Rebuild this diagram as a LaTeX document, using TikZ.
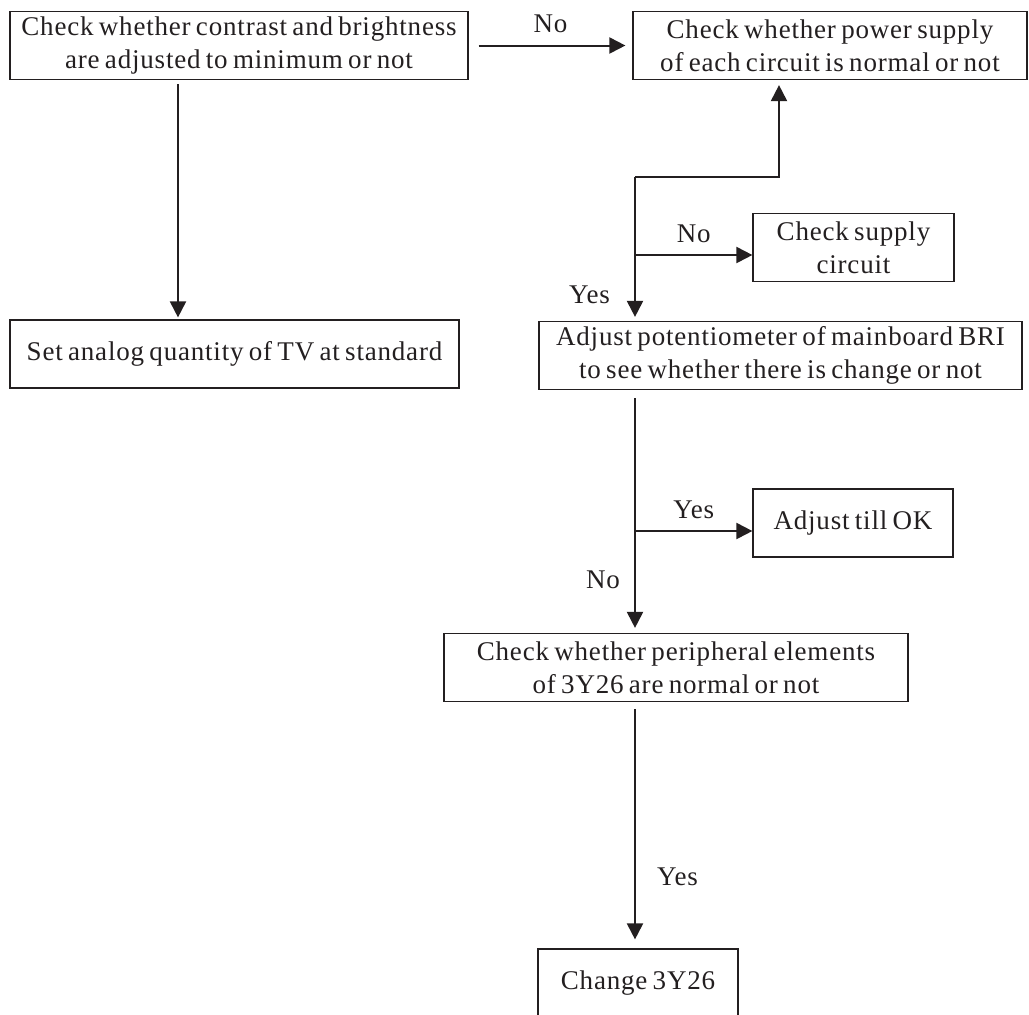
\documentclass[tikz,border=0pt]{standalone}
\usepackage{fontspec}
\setmainfont{Liberation Serif}[LetterSpace=3,WordSpace=0.7]
\usetikzlibrary{arrows.meta}
\definecolor{ink}{HTML}{231F20}

\begin{document}
\begin{tikzpicture}[x=0.5pt, y=-0.5pt, ink,
  box/.style={draw=ink, line width=0.6pt, align=center, inner sep=0pt, minimum height=34pt, font=\fontsize{13.5}{16.5}\selectfont},
  lab/.style={inner sep=0pt, font=\fontsize{13.5}{16.5}\selectfont},
  lbl/.style={lab, anchor=base, yshift=6.5pt},
  arr/.style={draw=ink, line width=1pt, -{Triangle[length=8pt, width=8pt]}}]
\useasboundingbox (0,0) rectangle (1029,1014);
\node[box, minimum width=229pt] (cb) at (239,45.5) {Check whether contrast and brightness\\are adjusted to minimum or not};
\node[box, minimum width=197pt] (ps) at (830,45.5) {Check whether power supply\\of each circuit is normal or not};
\node[box, minimum width=224.5pt] (tv) at (234.5,354) {Set analog quantity of TV at standard};
\node[box, minimum width=100.5pt] (sc) at (853.5,247.5) {Check supply\\circuit};
\node[box, minimum width=241.5pt] (bri) at (780.5,355.5) {Adjust potentiometer of mainboard BRI\\to see whether there is change or not};
\node[box, minimum width=100pt] (ok) at (853,523) {Adjust till OK};
\node[box, minimum width=232pt] (pe) at (676,667.5) {Check whether peripheral elements\\of 3Y26 are normal or not};
\node[box, minimum width=100pt] (ch) at (638,983) {Change 3Y26};
\coordinate (l) at (178,0);
\coordinate (m) at (635,0);
\coordinate (u) at (779,0);
\coordinate (f) at (635,177);
\coordinate (b1) at (635,255);
\coordinate (b2) at (635,531);
\path (cb) edge[arr, shorten <=5pt, shorten >=3.5pt] node[lbl] {No} (ps);
\draw[arr, shorten <=2pt, shorten >=1pt] (cb.south -| l) -- (tv.north -| l);
\draw[arr, shorten >=2.5pt] (f) -| (ps.south -| u);
\draw[arr, shorten >=2pt] (f) -- node[lab, left=12pt, pos=.82] {Yes} (bri.north -| m);
\draw[arr] (b1) -- node[lbl] {No} (b1 -| sc.west);
\draw[arr, shorten <=4pt, shorten >=2.5pt] (bri.south -| m) -- node[lab, left=7pt, pos=.78] {No} (pe.north -| m);
\draw[arr] (b2) -- node[lbl] {Yes} (b2 -| ok.west);
\draw[arr, shorten <=3.5pt, shorten >=4.5pt] (pe.south -| m) -- node[lab, right=10.5pt, pos=.71] {Yes} (ch.north -| m);
\end{tikzpicture}
\end{document}
